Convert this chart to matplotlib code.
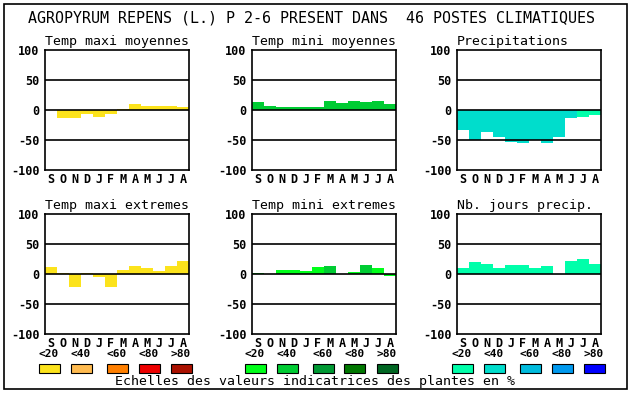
import matplotlib.pyplot as plt
from matplotlib.patches import Rectangle

W, H = 630, 394

months = ['S', 'O', 'N', 'D', 'J', 'F', 'M', 'A', 'M', 'J', 'J', 'A']
yticks = [100, 50, 0, -50, -100]

titre = "AGROPYRUM REPENS (L.) P 2-6 PRESENT DANS  46 POSTES CLIMATIQUES"

# valeurs
maxi_moy = [0, -14, -14, -6, -12, -6, 2, 10, 7, 7, 7, 5]
mini_moy = [13, 7, 5, 5, 5, 5, 15, 12, 15, 13, 15, 10]
precip = [-33, -50, -37, -45, -53, -55, -50, -55, -45, -13, -11, -8]
maxi_ext = [12, 2, -22, 2, -5, -22, 7, 13, 10, 5, 13, 22]
mini_ext = [2, 0, 7, 7, 5, 12, 13, 0, 3, 15, 10, -3]
nb_jours = [10, 20, 17, 10, 15, 15, 10, 13, 0, 22, 25, 17]

# classe de couleur (0 = <20, 1 = <40 ...)
cl_maxi_moy = [0] * 12
cl_mini_moy = [1] * 12
cl_precip = [1] * 10 + [0, 0]
cl_maxi_ext = [0] * 12
cl_mini_ext = [0, 0, 0, 0, 0, 0, 1, 0, 0, 1, 0, 0]
cl_nb_jours = [0] * 12

jaunes = ['#FCE31C', '#FFBB50', '#FF7F00', '#EE0000', '#AA1100']
verts = ['#00FF1A', '#00CC33', '#009933', '#007700', '#006622']
bleus = ['#00FFAA', '#00DDCC', '#00BBDD', '#0099EE', '#0000FF']
seuils = ['<20', '<40', '<60', '<80', '>80']

panneaux = [
    ('Temp maxi moyennes', maxi_moy, cl_maxi_moy, jaunes, 45, 50),
    ('Temp mini moyennes', mini_moy, cl_mini_moy, verts, 252, 50),
    ('Precipitations', precip, cl_precip, bleus, 457, 50),
    ('Temp maxi extremes', maxi_ext, cl_maxi_ext, jaunes, 45, 214),
    ('Temp mini extremes', mini_ext, cl_mini_ext, verts, 252, 214),
    ('Nb. jours precip.', nb_jours, cl_nb_jours, bleus, 457, 214),
]

MONO = 'DejaVu Sans Mono'

fig = plt.figure(figsize=(W / 100, H / 100), dpi=100)
fig.patch.set_facecolor('white')

# cadre general
fig.add_artist(Rectangle((4 / W, 1 - 389 / H), 623 / W, 385 / H,
                         transform=fig.transFigure, fill=False,
                         edgecolor='black', linewidth=1.2))

fig.text(312 / W, 1 - 18 / H, titre, ha='center', va='center',
         family=MONO, fontsize=10.8)

for nom, vals, cls, pal, x0, y0 in panneaux:
    ax = fig.add_axes([x0 / W, 1 - (y0 + 120) / H, 144 / W, 120 / H])
    couleurs = [pal[c] for c in cls]
    ax.bar(range(12), vals, width=1.0, color=couleurs, zorder=2)
    for v in [50, 0, -50]:
        ax.axhline(v, color='black', linewidth=1.2, zorder=3)
    ax.set_xlim(-0.5, 11.5)
    ax.set_ylim(-100, 100)
    ax.set_yticks(yticks)
    ax.set_yticklabels([str(v) for v in yticks], family=MONO,
                       fontweight='bold', fontsize=8.5)
    ax.set_xticks(range(12))
    ax.set_xticklabels(months, family=MONO, fontweight='bold', fontsize=8.5)
    ax.tick_params(length=0, pad=4)
    ax.tick_params(axis='x', pad=2)
    for s in ax.spines.values():
        s.set_linewidth(1.2)
    ax.text(0, 1.02, nom, transform=ax.transAxes, ha='left', va='bottom',
            family=MONO, fontsize=9.5)

# echelles de couleur
decalages = [0, 32, 68, 100, 132]
groupes = [(jaunes, 49), (verts, 255), (bleus, 462)]
for pal, xc in groupes:
    for i, c in enumerate(pal):
        cx = xc + decalages[i]
        fig.text(cx / W, 1 - 354 / H, seuils[i], ha='center', va='center',
                 family=MONO, fontweight='bold', fontsize=8)
        fig.add_artist(Rectangle(((cx - 10.5) / W, 1 - 373 / H), 21 / W, 9 / H,
                                 transform=fig.transFigure, facecolor=c,
                                 edgecolor='black', linewidth=0.8))

fig.text(315 / W, 1 - 382 / H,
         'Echelles des valeurs indicatrices des plantes en %',
         ha='center', va='center', family=MONO, fontsize=9.5)

fig.savefig('out.png', dpi=100)
